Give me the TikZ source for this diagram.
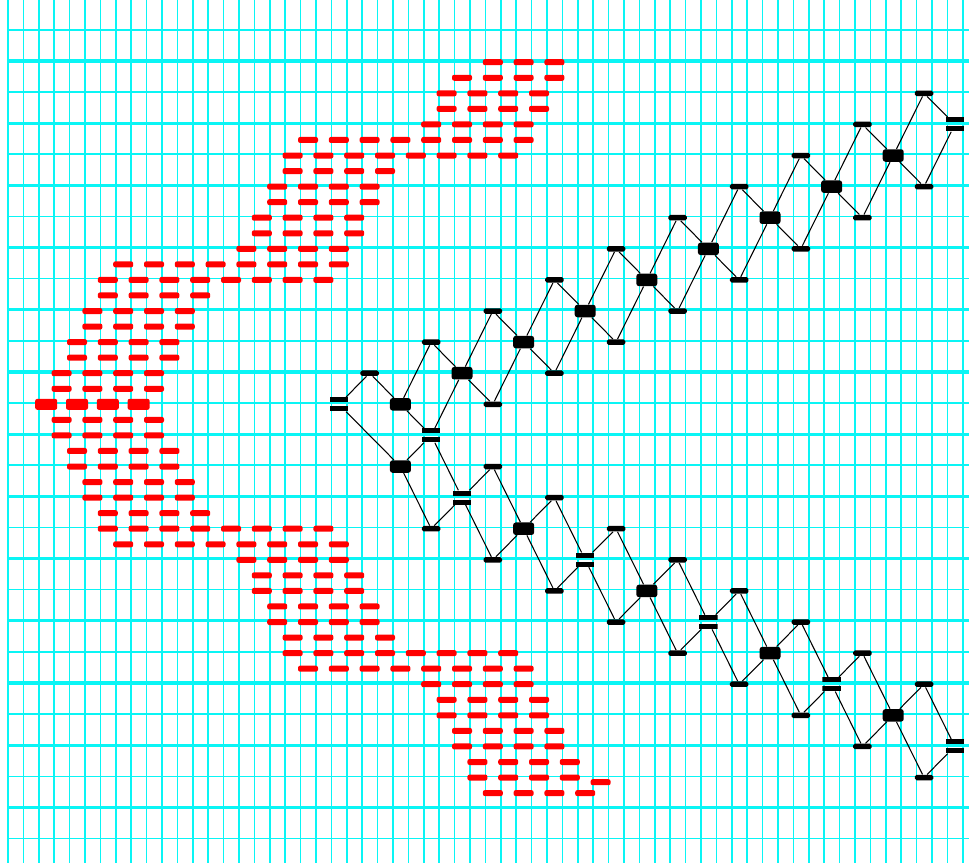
\documentclass[tikz,border=0pt]{standalone}
\usepackage{xcolor}
\usepackage{tikz}
\definecolor{gridcyan}{RGB}{10,245,245}

\begin{document}
\begin{tikzpicture}[
    x=0.308cm, y=-0.311cm,
    thingrid/.style={draw=gridcyan, line width=0.9pt},
    thickgrid/.style={draw=gridcyan, line width=1.8pt},
    redbar/.style={fill=red, rounded corners=1.2pt, minimum width=0.4cm, minimum height=0.12cm, inner sep=0pt},
    tipbar/.style={redbar, minimum width=0.44cm, minimum height=0.22cm},
    onebar/.style={fill=black, rounded corners=1pt, minimum width=0.37cm, minimum height=0.11cm, inner sep=0pt},
    bigbar/.style={fill=black, rounded corners=1.5pt, minimum width=0.42cm, minimum height=0.25cm, inner sep=0pt},
    twobar/.style={minimum width=0.37cm, minimum height=0.28cm, inner sep=0pt,
      path picture={
        \fill (path picture bounding box.north west) rectangle ([yshift=-0.1cm]path picture bounding box.north east);
        \fill ([yshift=0.1cm]path picture bounding box.south west) rectangle (path picture bounding box.south east);}},
    link/.style={draw=black, line width=0.6pt}
  ]
  \useasboundingbox (0,0) rectangle (62.92,55.5);
  \fill[white] (0,0) rectangle (62.92,55.5);
  \foreach \k in {0,...,62} \draw[thingrid] (\k+0.52,0) -- (\k+0.52,55.5);
  \foreach \k in {0,...,13} {
    \draw[thickgrid] (0.45,4*\k-0.08) -- (62.92,4*\k-0.08);
    \draw[thingrid] (0.45,4*\k+1.92) -- (62.92,4*\k+1.92);
  }

  \foreach \m/\a/\b in {4/32/36, 5/30/36, 6/29/35, 7/29/35, 8/28/34, 9/20/34, 10/19/33, 11/19/25,
      12/18/24, 13/18/24, 14/17/23, 15/17/23, 16/16/22, 17/8/22, 18/7/21, 19/7/13,
      20/6/12, 21/6/12, 22/5/11, 23/5/11, 24/4/10, 25/4/10,
      27/4/10, 28/4/10, 29/5/11, 30/5/11, 31/6/12, 32/6/12, 33/7/13, 34/7/21,
      35/8/22, 36/16/22, 37/17/23, 38/17/23, 39/18/24, 40/18/24, 41/19/25, 42/19/33,
      43/20/34, 44/28/34, 45/29/35, 46/29/35, 47/30/36, 48/30/36, 49/31/37, 50/31/37, 51/32/38} {
    \pgfmathtruncatemacro\c{\a+2}
    \foreach \n in {\a,\c,...,\b} \node[redbar] (r\m-\n) at (\n,\m) {};
  }
  \foreach \n in {3,5,7,9} \node[tipbar] (r26-\n) at (\n,26) {};
  \node[redbar] (r50-39) at (39,50.3) {};

  \node[twobar] (st) at (22,26) {};
  \node[twobar, alias=lt0] (ul0) at (28,28) {};
  \foreach \i in {0,...,9} \node[onebar] (ut\i) at ({24+4*\i},{24-2*\i}) {};
  \foreach \i in {1,...,8} \node[onebar] (ul\i) at ({28+4*\i},{28-2*\i}) {};
  \foreach \i in {0,...,8} \node[bigbar] (ub\i) at ({26+4*\i},{26-2*\i}) {};
  \node[twobar] (ub9) at (62,8) {};
  \foreach \i in {1,...,8} \node[onebar] (lt\i) at ({28+4*\i},{28+2*\i}) {};
  \foreach \i in {0,...,8} \node[onebar] (ll\i) at ({28+4*\i},{34+2*\i}) {};
  \foreach \i in {0,2,...,8} \node[bigbar] (lb\i) at ({26+4*\i},{30+2*\i}) {};
  \foreach \i in {1,3,...,9} \node[twobar] (lb\i) at ({26+4*\i},{30+2*\i}) {};

  \draw[link] (st) -- (ut0) (st) -- (lb0);
  \foreach \i in {0,...,9} \draw[link] (ub\i) -- (ut\i);
  \foreach \i [evaluate=\i as \j using int(\i+1)] in {0,...,8}
    \draw[link] (ub\i) -- (ut\j) (ub\i) -- (ul\i) (lb\i) -- (lt\i) (lb\i) -- (ll\i);
  \foreach \i [evaluate=\i as \j using int(\i-1)] in {1,...,9}
    \draw[link] (ub\i) -- (ul\j) (lb\i) -- (lt\j) (lb\i) -- (ll\j);
\end{tikzpicture}
\end{document}
